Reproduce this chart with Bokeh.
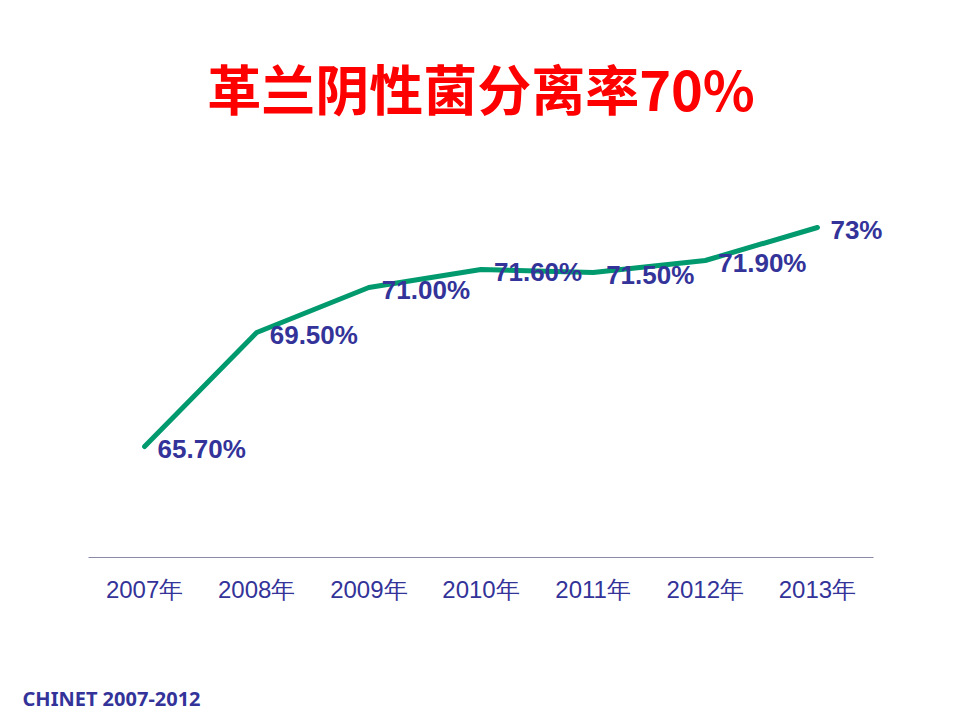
from bokeh.plotting import figure
from bokeh.models import Range1d
from bokeh.core.properties import value
from bokeh.embed import file_html
from bokeh.resources import INLINE

years = ["2007年", "2008年", "2009年", "2010年", "2011年", "2012年", "2013年"]
rates = [65.7, 69.5, 71.0, 71.6, 71.5, 71.9, 73.0]
rate_labels = ["65.70%", "69.50%", "71.00%", "71.60%", "71.50%", "71.90%", "73%"]
title_text = "革兰阴性菌分离率70%"
source_text = "CHINET 2007-2012"

n = len(years)
xs = [i + 0.5 for i in range(n)]

# axis (value) baseline and scaling
y_base = 62.0
px_x = 785 / n          # pixels per category
px_y = 30.0             # pixels per percentage point
x0 = -88 / px_x
x1 = n + 87 / px_x
y_top = y_base + 557 / px_y
y_bot = y_base - 163 / px_y

p = figure(width=960, height=720, output_backend="svg", toolbar_location=None,
           x_range=Range1d(x0, x1), y_range=Range1d(y_bot, y_top),
           x_axis_location=None, y_axis_location=None,
           min_border=0)
p.outline_line_color = None
p.xgrid.visible = False
p.ygrid.visible = False
p.background_fill_color = "white"
p.border_fill_color = "white"

# category axis line and tick labels
p.segment(x0=[0], y0=[y_base], x1=[n], y1=[y_base], line_color="#8a8aa8", line_width=1.2)
p.text(xs, [y_base] * n, text=years, y_offset=32, text_align="center",
       text_baseline="middle", text_font=value("Liberation Sans"),
       text_font_size="24px", text_color="#333399")

# series
p.line(xs, rates, line_color="#009a6e", line_width=5, line_cap="round", line_join="round")
p.text(xs, rates, text=rate_labels, x_offset=13, y_offset=2,
       text_baseline="middle", text_align="left",
       text_font=value("Liberation Sans"), text_font_style="bold",
       text_font_size="26px", text_color="#333399")

# title and source note
p.text([n / 2], [y_base + (557 - 87) / px_y], text=[title_text], text_align="center",
       text_baseline="middle", text_font=value("Noto Sans CJK SC"),
       text_font_style="bold", text_font_size="54px", text_color="#ff0000")
p.text([(22 - 88) / px_x], [y_base - (698 - 557) / px_y], text=[source_text],
       text_align="left", text_baseline="middle", text_font=value("Noto Sans"),
       text_font_style="bold", text_font_size="20px", text_color="#333399")

open("out.html", "w").write(file_html(p, INLINE))
